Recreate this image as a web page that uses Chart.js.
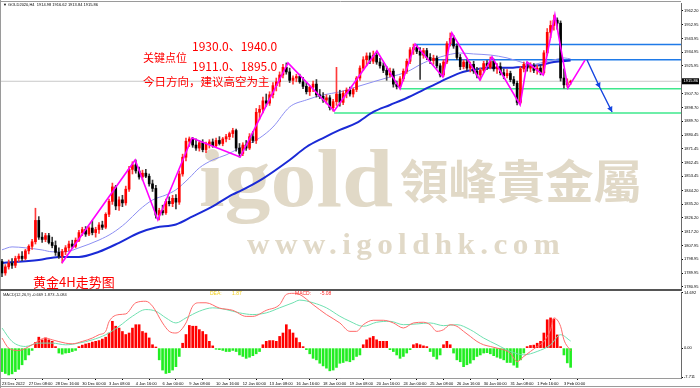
<!DOCTYPE html>
<html>
<head>
<meta charset="utf-8">
<script src="https://cdn.jsdelivr.net/npm/chart.js@4.4.0/dist/chart.umd.min.js"></script>
<style>
  html, body { margin: 0; padding: 0; background: #fff; }
  #wrap { position: relative; width: 700px; height: 388px; overflow: hidden; }
  canvas { position: absolute; left: 0; }
  #main { top: 0; }
  #macd { top: 291px; }
</style>
</head>
<body>
<div id="wrap">
  <canvas id="main" width="700" height="291"></canvas>
  <canvas id="macd" width="700" height="97"></canvas>
</div>
<script>
// 4H gold candles, 23 Dec 2022 00:00 .. 3 Feb 2023 08:00 (bar index 0..170)
var open = [1797.5,1790.0,1794.0,1796.5,1795.0,1799.5,1801.0,1799.5,1804.5,1807.5,
  1810.5,1824.5,1813.5,1812.0,1814.5,1810.0,1808.0,1803.5,1801.0,1804.0,
  1806.5,1809.0,1807.5,1811.5,1816.5,1818.5,1815.5,1819.5,1816.5,1818.5,
  1821.5,1820.0,1828.5,1837.0,1846.5,1834.0,1838.0,1836.0,1845.0,1858.0,
  1861.0,1857.0,1853.0,1855.5,1853.5,1848.5,1845.5,1828.0,1831.0,1829.5,
  1837.0,1835.5,1839.0,1836.5,1855.0,1866.0,1876.5,1878.0,1874.0,1872.0,
  1875.5,1871.0,1874.5,1876.0,1873.5,1877.0,1875.0,1878.0,1879.5,1881.5,
  1883.5,1872.0,1868.5,1874.0,1872.0,1879.5,1877.0,1895.5,1897.5,1903.0,
  1901.5,1907.0,1913.0,1915.5,1920.0,1925.0,1922.0,1916.5,1918.0,1919.0,
  1915.5,1912.5,1909.0,1912.0,1914.0,1907.0,1906.0,1903.5,1905.0,1898.5,
  1902.5,1907.5,1902.0,1908.0,1910.0,1907.5,1910.5,1918.0,1924.5,1930.0,
  1932.5,1929.0,1933.0,1928.5,1926.0,1923.0,1920.0,1922.5,1914.0,1912.5,
  1917.5,1922.5,1929.0,1936.5,1938.0,1935.5,1933.0,1936.0,1931.5,1929.5,
  1931.0,1926.0,1920.0,1928.5,1940.5,1944.0,1939.0,1931.5,1925.5,1928.5,
  1924.5,1927.0,1922.5,1920.0,1923.0,1927.5,1925.0,1929.0,1924.0,1925.5,
  1921.5,1919.5,1921.0,1917.0,1914.5,1902.0,1924.0,1927.0,1924.5,1926.0,
  1923.0,1924.5,1921.5,1934.5,1948.0,1952.5,1956.0,1954.0,1918.0,1913.5,
  1914.98];
var high = [1799.0,1795.5,1798.5,1799.5,1801.0,1802.5,1804.0,1805.5,1808.5,1812.0,
  1832.5,1827.0,1816.5,1816.0,1816.0,1813.5,1811.0,1806.5,1805.5,1808.0,
  1811.0,1811.5,1813.0,1818.0,1820.0,1820.5,1820.5,1824.5,1820.0,1823.0,
  1824.0,1829.5,1838.5,1849.0,1847.5,1840.0,1841.0,1847.0,1860.0,1863.0,
  1864.2,1859.5,1857.5,1858.0,1855.0,1851.0,1847.5,1832.5,1834.5,1838.5,
  1840.0,1841.0,1841.5,1857.0,1868.0,1878.5,1879.3,1879.0,1878.0,1877.0,
  1877.5,1876.0,1877.5,1878.0,1878.5,1879.5,1879.0,1881.0,1882.5,1885.0,
  1884.5,1875.0,1875.5,1877.0,1881.5,1883.0,1898.0,1900.0,1905.5,1907.5,
  1909.0,1915.0,1918.0,1922.0,1927.0,1927.9,1924.5,1919.5,1920.5,1920.5,
  1918.5,1915.0,1913.0,1916.0,1917.0,1910.5,1908.5,1907.0,1906.5,1904.0,
  1925.0,1910.0,1909.5,1911.5,1912.0,1911.5,1919.0,1926.0,1932.0,1934.5,
  1934.5,1935.7,1934.5,1931.0,1928.0,1925.5,1924.5,1924.0,1916.0,1919.0,
  1924.0,1930.5,1938.0,1940.3,1939.5,1938.0,1937.5,1937.5,1934.0,1933.0,
  1932.5,1927.5,1930.0,1942.0,1947.6,1946.0,1940.5,1933.5,1930.0,1930.0,
  1928.5,1929.0,1925.0,1924.5,1929.0,1929.5,1931.8,1930.5,1927.5,1928.0,
  1924.0,1923.5,1922.5,1919.0,1916.0,1925.5,1928.5,1928.5,1928.0,1927.5,
  1926.5,1926.5,1936.0,1950.5,1955.5,1959.4,1957.5,1955.5,1924.0,1917.5,
  1916.62];
var low = [1787.5,1788.5,1792.5,1793.0,1793.5,1797.5,1798.0,1798.5,1802.5,1805.5,
  1809.0,1812.0,1810.0,1810.5,1809.0,1806.5,1801.5,1799.5,1796.5,1802.0,
  1804.5,1806.0,1806.5,1810.5,1814.5,1814.0,1814.5,1815.0,1813.5,1816.0,
  1818.5,1819.0,1827.0,1835.0,1831.5,1831.0,1833.5,1834.5,1843.5,1855.0,
  1855.5,1851.5,1851.0,1852.5,1847.0,1843.5,1826.0,1824.8,1828.0,1828.5,
  1834.0,1833.5,1832.0,1835.0,1853.5,1863.5,1873.0,1872.5,1870.5,1870.0,
  1869.5,1869.0,1872.0,1872.5,1872.5,1874.0,1873.5,1876.0,1877.5,1879.0,
  1870.0,1866.1,1867.0,1870.5,1871.0,1875.5,1875.0,1891.0,1895.0,1899.5,
  1900.0,1905.0,1909.5,1912.5,1918.0,1920.5,1915.0,1914.0,1915.5,1914.5,
  1911.0,1907.5,1906.5,1909.0,1905.5,1904.5,1902.0,1901.0,1897.0,1896.3,
  1900.0,1899.5,1900.5,1905.0,1906.0,1905.5,1909.0,1916.5,1923.0,1926.0,
  1927.5,1927.5,1927.0,1924.5,1921.5,1916.5,1918.5,1912.0,1910.8,1911.0,
  1916.0,1921.0,1927.5,1933.5,1934.0,1917.0,1931.0,1930.0,1927.5,1927.0,
  1924.5,1918.7,1919.0,1927.5,1939.0,1937.5,1930.0,1923.5,1924.0,1923.0,
  1922.0,1921.0,1918.0,1916.7,1921.5,1923.5,1924.0,1922.5,1921.0,1920.0,
  1917.5,1918.0,1915.5,1913.0,1900.3,1901.0,1922.0,1922.5,1922.0,1921.5,
  1920.5,1920.0,1920.5,1933.0,1944.5,1949.5,1950.0,1916.0,1911.4,1912.0,
  1913.84];
var close = [1790.0,1794.0,1796.5,1795.0,1799.5,1801.0,1799.5,1804.5,1807.5,1810.5,
  1824.5,1813.5,1812.0,1814.5,1810.0,1808.0,1803.5,1801.0,1804.0,1806.5,
  1809.0,1807.5,1811.5,1816.5,1818.5,1815.5,1819.5,1816.5,1818.5,1821.5,
  1820.0,1828.5,1837.0,1846.5,1834.0,1838.0,1836.0,1845.0,1858.0,1861.0,
  1857.0,1853.0,1855.5,1853.5,1848.5,1845.5,1828.0,1831.0,1829.5,1837.0,
  1835.5,1839.0,1836.5,1855.0,1866.0,1876.5,1878.0,1874.0,1872.0,1875.5,
  1871.0,1874.5,1876.0,1873.5,1877.0,1875.0,1878.0,1879.5,1881.5,1883.5,
  1872.0,1868.5,1874.0,1872.0,1879.5,1877.0,1895.5,1897.5,1903.0,1901.5,
  1907.0,1913.0,1915.5,1920.0,1925.0,1922.0,1916.5,1918.0,1919.0,1915.5,
  1912.5,1909.0,1912.0,1914.0,1907.0,1906.0,1903.5,1905.0,1898.5,1902.5,
  1907.5,1902.0,1908.0,1910.0,1907.5,1910.5,1918.0,1924.5,1930.0,1932.5,
  1929.0,1933.0,1928.5,1926.0,1923.0,1920.0,1922.5,1914.0,1912.5,1917.5,
  1922.5,1929.0,1936.5,1938.0,1935.5,1933.0,1936.0,1931.5,1929.5,1931.0,
  1926.0,1920.0,1928.5,1940.5,1944.0,1939.0,1931.5,1925.5,1928.5,1924.5,
  1927.0,1922.5,1920.0,1923.0,1927.5,1925.0,1929.0,1924.0,1925.5,1921.5,
  1919.5,1921.0,1917.0,1914.5,1902.0,1924.0,1927.0,1924.5,1926.0,1923.0,
  1924.5,1921.5,1934.5,1948.0,1952.5,1956.0,1954.0,1918.0,1913.5,1915.0,
  1915.86];

// moving averages (bar index, price)
var maFastI = [0,3,7,12,15,19,23,29,33,37,41,45,49,52,56,59,63,67,71,77,81,86,91,96,101,106,111,116,121,126,131,137,141,146,151,156,158,161,165,168,170];
var maFastP = [1805.2,1807.1,1806.5,1805.1,1803.9,1803.9,1806.5,1811.6,1816.2,1822.8,1831.3,1837.9,1841.2,1844.6,1852.4,1859.0,1864.2,1867.5,1872.0,1878.6,1885.8,1899.0,1903.6,1906.9,1908.9,1912.2,1915.5,1918.7,1922.0,1927.9,1931.8,1934.4,1933.8,1933.1,1931.2,1927.9,1926.6,1927.9,1929.9,1931.2,1930.5];
var maSlowI = [0,11,17,23,29,35,41,46,52,57,63,69,71,78,86,91,96,101,106,111,116,121,126,131,137,141,146,151,156,161,165,170];
var maSlowP = [1796.6,1798.5,1800.5,1800.5,1803.9,1809.8,1816.4,1819.8,1821.8,1827.1,1833.7,1841.6,1843.6,1852.0,1864.2,1872.7,1878.6,1883.9,1888.5,1895.7,1900.3,1904.9,1910.2,1915.5,1921.4,1923.4,1924.7,1924.7,1925.4,1926.6,1928.5,1929.5];

// hand-drawn zigzag and projection arrow
var zigI = [17.9,39.8,46.6,56.8,71.2,85.5,99.3,112.1,119.0,123.5,131.8,134.5,142.9,146.5,154.9,157.0,161.8,165.3,169.2,174.3];
var zigP = [1796.5,1864.2,1824.8,1878.6,1866.1,1927.9,1896.3,1935.7,1910.8,1940.3,1918.7,1947.6,1916.7,1931.8,1900.3,1928.5,1920.0,1959.4,1911.4,1929.8];
var arrowI = [174.9,178.8,182.4];
var arrowP = [1929.8,1911.4,1895.7];

// key levels
var levelP = [1940.0,1930.0,1911.0,1895.0];
var levelFrom = [123.5,128.5,119.0,99.3];
var levelColor = ['#1f7ae8','#1f7ae8','#3ee88c','#3ee88c'];

// MACD(12,26,9)
var hist = [-6.2,-6.7,-7.1,-6.8,-6.2,-5.6,-4.4,-3.1,-1.8,-0.6,
  1.5,2.9,2.2,2.7,2.2,1.8,0.4,-1.3,-1.6,-1.3,
  -1.2,-0.9,-0.6,0.4,0.8,1.1,1.3,1.6,1.8,2.0,
  2.4,2.9,4.0,7.1,5.8,5.3,4.4,3.6,4.0,5.3,
  6.2,6.2,4.4,4.0,2.7,0.9,0.3,-3.1,-5.8,-6.7,
  -6.5,-5.8,-4.9,-2.2,1.3,3.6,6.0,5.8,5.8,4.9,
  4.4,3.6,1.8,0.6,-0.3,-0.4,-0.6,-0.9,-0.9,-0.6,
  -0.9,-1.8,-2.2,-2.7,-2.4,-2.0,-1.5,-0.9,0.9,1.8,
  2.0,2.0,1.8,3.1,4.0,6.2,4.9,4.0,2.7,1.5,
  0.4,-0.4,-1.5,-2.7,-3.1,-4.0,-4.7,-5.3,-6.0,-5.8,
  -5.1,-4.0,-3.8,-3.4,-3.6,-3.1,-2.2,-1.8,0.9,2.2,
  2.7,3.1,2.2,1.8,1.8,1.8,-0.4,-0.9,-1.8,-2.7,
  -2.2,-1.3,-0.4,0.9,1.2,0.9,0.6,0.4,-0.9,-2.2,
  -2.9,-1.8,0.9,1.8,0.9,-1.3,-3.1,-3.6,-4.9,-4.4,
  -4.0,-3.1,-2.2,-1.8,-1.3,-1.2,-1.5,-2.0,-2.4,-2.7,
  -3.1,-3.8,-3.8,-4.5,-5.1,-3.1,-1.3,0.4,0.7,0.8,
  1.3,1.8,4.0,7.5,8.0,7.7,3.5,0.4,-1.8,-3.9,
  -5.084];
var difI = [0,2,5,9,13,15,19,21,24,27,29,31,32,35,37,40,43,45,48,50,52,55,57,59,61,65,69,73,75,79,83,85,87,89,93,97,101,104,106,108,111,114,117,120,123,126,128,130,132,134,136,138,140,142,144,146,148,150,152,154,156,158,160,162,164,165,167,168,170];
var difV = [2.67,0,-0.62,0.88,2.67,2.21,1.32,1.15,1.77,2.67,3.55,4.44,7.0,8.88,9.05,12.0,12.4,11.1,6.66,4.44,4.0,6.66,11.1,12.0,12.0,10.6,10.0,8.4,8.4,10.0,11.5,14.2,14.5,14.2,11.5,8.88,6.66,4.44,4.44,6.2,7.37,7.37,6.66,5.33,6.66,6.84,6.2,4.44,4.88,6.2,5.77,4.44,3.1,1.77,0.88,0.44,0,-0.44,-1.33,-3.55,-2.2,-0.88,0.44,1.77,4.88,8.0,5.77,2.2,-0.669];
var deaI = [0,3,7,11,15,19,23,27,31,35,39,43,46,49,52,55,59,63,67,71,75,79,83,87,89,93,97,101,104,108,112,116,120,124,128,132,136,140,144,148,152,156,160,164,167,170];
var deaV = [5.33,1.77,0.44,1.33,1.33,0.88,1.33,2.2,3.55,5.77,8.44,10.2,9.77,8.0,6.66,8.0,9.77,10.66,10.2,9.33,8.88,9.33,10.66,12.0,12.7,12.0,10.66,8.44,7.1,5.77,6.84,7.1,6.2,6.4,6.66,5.95,6.2,4.88,2.67,0.88,-0.88,-1.77,-0.88,0.88,3.55,1.873];

// axis labels
var priceTicks = [1962.20,1952.95,1943.95,1934.95,1925.95,1907.70,1898.70,1889.70,1880.45,1871.45,1862.45,1853.45,1844.20,1835.20,1826.20,1817.20,1807.95,1798.95,1789.95,1780.95];
var lastPrice = 1915.86;
var macdTicks = [14.692, 0, -7.711];
var timeLabels = ['23 Dec 2022','27 Dec 08:00','28 Dec 16:00','30 Dec 00:00','3 Jan 08:00','4 Jan 16:00','6 Jan 00:00','9 Jan 08:00','10 Jan 16:00','12 Jan 00:00','13 Jan 08:00','16 Jan 16:00','18 Jan 00:00','19 Jan 08:00','20 Jan 16:00','24 Jan 00:00','25 Jan 08:00','26 Jan 16:00','30 Jan 00:00','31 Jan 08:00','1 Feb 16:00','3 Feb 00:00'];
var barsPerLabel = 8;

var xMin = -0.3, xMax = 203;
var tiny = { family: 'Liberation Sans', size: 4 };
var cjk = '"Noto Sans CJK SC"';

function pts(xs, ys) {
  return xs.map(function(x, k) { return { x: x, y: ys[k] }; });
}
var idx = open.map(function(v, i) { return i; });
var isUp = idx.map(function(i) { return close[i] >= open[i]; });

function arrowHead(ctx, x0, y0, x1, y1, size, color) {
  var a = Math.atan2(y1 - y0, x1 - x0);
  ctx.beginPath();
  ctx.moveTo(x1, y1);
  ctx.lineTo(x1 - size * Math.cos(a - 0.5), y1 - size * Math.sin(a - 0.5));
  ctx.lineTo(x1 - size * Math.cos(a + 0.5), y1 - size * Math.sin(a + 0.5));
  ctx.closePath();
  ctx.fillStyle = color;
  ctx.fill();
}

// draw a text squeezed/stretched into a given width
function fitText(ctx, txt, x, y, w) {
  var m = ctx.measureText(txt).width;
  ctx.save();
  ctx.translate(x, y);
  ctx.scale(w / m, 1);
  ctx.fillText(txt, 0, 0);
  ctx.restore();
}

var mainDecor = {
  id: 'mainDecor',
  beforeDatasetsDraw: function(chart) {
    var ctx = chart.ctx;
    ctx.save();
    ctx.fillStyle = '#e1d9c7';
    ctx.textAlign = 'left';
    ctx.textBaseline = 'alphabetic';
    ctx.font = 'bold 82px "Liberation Serif"';
    fitText(ctx, 'igold', 199, 206, 194);
    ctx.font = 'bold 46px "Noto Sans CJK TC"';
    ctx.textBaseline = 'middle';
    fitText(ctx, '領峰貴金屬', 400, 181, 242);
    ctx.textBaseline = 'alphabetic';
    ctx.font = 'bold 29px "Liberation Serif"';
    ctx.letterSpacing = '5px';
    fitText(ctx, 'www.igoldhk.com', 247, 254, 318);
    ctx.restore();
  },
  afterDraw: function(chart) {
    var ctx = chart.ctx, x = chart.scales.x, y = chart.scales.y, a = chart.chartArea;
    ctx.save();
    // blue projection arrow heads
    for (var k = 1; k < arrowI.length; k++) {
      arrowHead(ctx, x.getPixelForValue(arrowI[k - 1]), y.getPixelForValue(arrowP[k - 1]),
        x.getPixelForValue(arrowI[k]), y.getPixelForValue(arrowP[k]), 6, '#1545e0');
    }
    // frame
    ctx.strokeStyle = '#9a9a9a';
    ctx.lineWidth = 1;
    ctx.beginPath();
    ctx.moveTo(0, 1.5); ctx.lineTo(a.right, 1.5);
    ctx.moveTo(0.5, 0); ctx.lineTo(0.5, 291);
    ctx.stroke();
    ctx.fillStyle = '#555';
    ctx.fillRect(0, 289, a.right + 1, 2);
    // last price box
    var py = y.getPixelForValue(lastPrice);
    ctx.fillStyle = '#000';
    ctx.fillRect(a.right + 1, py - 3, 17, 6);
    ctx.fillStyle = '#fff';
    ctx.font = '4px "Liberation Sans"';
    ctx.textBaseline = 'middle';
    ctx.fillText(lastPrice.toFixed(2), a.right + 2.5, py);
    // header
    ctx.fillStyle = '#000';
    ctx.fillText('\u25BC GOLD2020,H4  1914.98 1916.62 1913.84 1915.86', 3, 5);
    // red notes
    ctx.fillStyle = '#ff0000';
    ctx.font = '12px ' + cjk;
    ctx.fillText('1930.0\u30011940.0', 192, 46);
    ctx.fillText('1911.0\u30011895.0', 192, 66);
    ctx.font = '11px ' + cjk;
    ctx.fillText('关键点位', 143, 58);
    ctx.font = '11.5px ' + cjk;
    ctx.fillText('今日方向，建议高空为主', 143, 82);
    ctx.font = '13px ' + cjk;
    ctx.fillText('黄金4H走势图', 33, 282);
    ctx.restore();
  }
};

var mainDatasets = [
  { type: 'line', data: [{ x: xMin, y: lastPrice }, { x: xMax, y: lastPrice }],
    borderColor: '#c8c8c8', borderWidth: 1, pointRadius: 0, order: 30 }
];
levelP.forEach(function(p, k) {
  mainDatasets.push({ type: 'line', data: [{ x: levelFrom[k], y: p }, { x: xMax, y: p }],
    borderColor: levelColor[k], borderWidth: 1.5, pointRadius: 0, order: 20 });
});
mainDatasets.push(
  { type: 'line', data: pts(maFastI, maFastP), borderColor: '#8c8ef2', borderWidth: 1,
    pointRadius: 0, cubicInterpolationMode: 'monotone', order: 12 },
  { type: 'line', data: pts(maSlowI, maSlowP), borderColor: '#1a2ad6', borderWidth: 2,
    pointRadius: 0, cubicInterpolationMode: 'monotone', order: 11 },
  { type: 'bar', data: idx.map(function(i) { return { x: i, y: [low[i], high[i]] }; }),
    backgroundColor: isUp.map(function(u) { return u ? '#ff3a3a' : '#3a3a3a'; }),
    barThickness: 1, grouped: false, order: 8 },
  { type: 'bar', data: idx.map(function(i) { return { x: i, y: [open[i], close[i]] }; }),
    backgroundColor: isUp.map(function(u) { return u ? '#ff0000' : '#000000'; }),
    barThickness: 2, minBarLength: 1, grouped: false, order: 7 },
  { type: 'line', data: pts(zigI, zigP), borderColor: '#ff00ff', borderWidth: 1.6,
    pointRadius: 0, order: 2 },
  { type: 'line', data: pts(arrowI, arrowP), borderColor: '#1545e0', borderWidth: 1.4,
    pointRadius: 0, order: 1 }
);

new Chart(document.getElementById('main'), {
  type: 'bar',
  data: { datasets: mainDatasets },
  options: {
    responsive: false, animation: false, events: [],
    layout: { padding: { left: 1, top: 3, right: 0, bottom: 1 }, autoPadding: false },
    plugins: { legend: { display: false }, tooltip: { enabled: false } },
    scales: {
      x: { type: 'linear', display: false, min: xMin, max: xMax, offset: false },
      y: {
        position: 'right', min: 1778.8, max: 1967.26,
        afterFit: function(s) { s.width = 19; s.paddingTop = 0; s.paddingBottom = 0; },
        afterBuildTicks: function(s) { s.ticks = priceTicks.map(function(v) { return { value: v }; }); },
        ticks: { font: tiny, color: '#000', padding: 1, autoSkip: false,
          callback: function(v) { return v.toFixed(2); } },
        grid: { drawOnChartArea: false, tickLength: 2, color: '#000' },
        border: { color: '#6a6a6a' }
      }
    }
  },
  plugins: [mainDecor]
});

var macdDecor = {
  id: 'macdDecor',
  afterDraw: function(chart) {
    var ctx = chart.ctx, a = chart.chartArea;
    ctx.save();
    ctx.strokeStyle = '#9a9a9a';
    ctx.lineWidth = 1;
    ctx.beginPath();
    ctx.moveTo(0.5, 0); ctx.lineTo(0.5, 97);
    ctx.moveTo(0, a.bottom + 0.5); ctx.lineTo(a.right, a.bottom + 0.5);
    ctx.moveTo(0, 95.5); ctx.lineTo(700, 95.5);
    ctx.stroke();
    ctx.textBaseline = 'middle';
    ctx.font = '4px "Liberation Sans"';
    ctx.fillStyle = '#222';
    ctx.fillText('MACD(12,26,9) -0.669 1.873 -5.084', 3, 3.5);
    ctx.font = '5px "Liberation Sans"';
    ctx.fillStyle = '#f2cf1a';
    ctx.fillText('DEA:', 210, 2.5);
    ctx.fillText('1.87', 232, 2.5);
    ctx.fillStyle = '#ff2a2a';
    ctx.fillText('MACD:', 295, 2.5);
    ctx.fillText('-5.08', 320, 2.5);
    ctx.restore();
  }
};

new Chart(document.getElementById('macd'), {
  type: 'bar',
  data: {
    datasets: [
      { type: 'line', data: pts(difI, difV), borderColor: '#ff6a6a', borderWidth: 1,
        pointRadius: 0, cubicInterpolationMode: 'monotone', order: 1 },
      { type: 'line', data: pts(deaI, deaV), borderColor: '#6fe0b0', borderWidth: 1,
        pointRadius: 0, cubicInterpolationMode: 'monotone', order: 2 },
      { type: 'bar', data: idx.map(function(i) { return { x: i, y: hist[i] }; }),
        backgroundColor: hist.map(function(v) { return v >= 0 ? '#ff0000' : '#22ee22'; }),
        barThickness: 2, grouped: false, order: 5 }
    ]
  },
  options: {
    responsive: false, animation: false, events: [],
    layout: { padding: { left: 1, top: 1, right: 0, bottom: 0 }, autoPadding: false },
    plugins: { legend: { display: false }, tooltip: { enabled: false } },
    scales: {
      x: {
        type: 'linear', position: 'bottom', min: xMin, max: xMax, offset: false,
        afterFit: function(s) { s.height = 10; s.paddingLeft = 0; s.paddingRight = 0; },
        afterBuildTicks: function(s) {
          s.ticks = timeLabels.map(function(t, k) { return { value: k * barsPerLabel }; });
        },
        ticks: { font: tiny, color: '#000', padding: 1, align: 'start', maxRotation: 0, autoSkip: false,
          callback: function(v) { return timeLabels[Math.round(v / barsPerLabel)]; } },
        grid: { drawOnChartArea: false, tickLength: 2, color: '#000' },
        border: { color: '#8a8a8a' }
      },
      y: {
        position: 'right', min: -7.9, max: 14.85,
        afterFit: function(s) { s.width = 19; s.paddingTop = 0; s.paddingBottom = 0; },
        afterBuildTicks: function(s) { s.ticks = macdTicks.map(function(v) { return { value: v }; }); },
        ticks: { font: tiny, color: '#000', padding: 1, autoSkip: false,
          callback: function(v) { return v === 0 ? '0.00' : String(v); } },
        grid: { drawOnChartArea: false, tickLength: 2, color: '#000' },
        border: { color: '#6a6a6a' }
      }
    }
  },
  plugins: [macdDecor]
});
</script>
</body>
</html>
